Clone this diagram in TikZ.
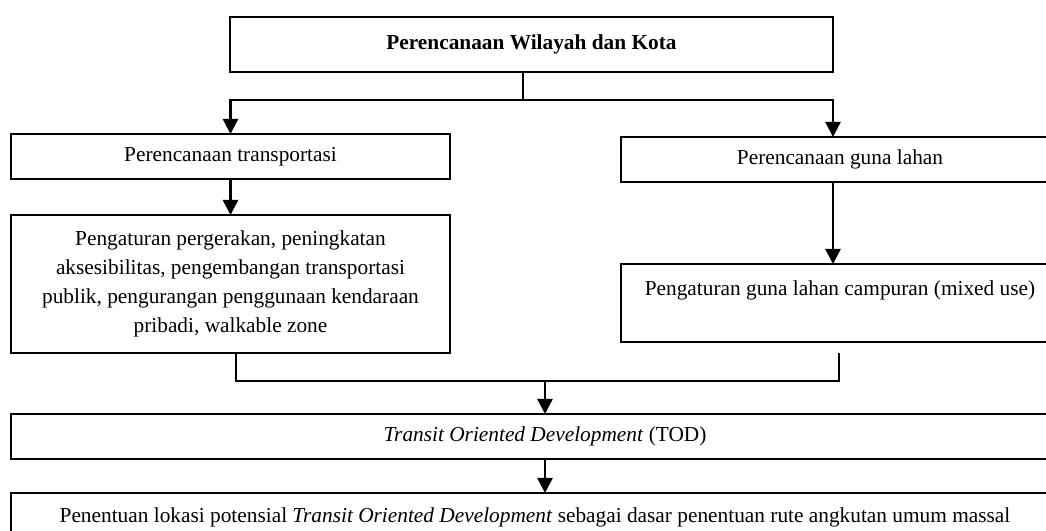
\documentclass[tikz,border=0pt]{standalone}
\usepackage{fontspec}
\setmainfont{Liberation Serif}
\usetikzlibrary{arrows.meta, calc}

\begin{document}
\begin{tikzpicture}[
    x=0.5625pt, y=-0.5625pt,
    every node/.style={font=\fontsize{12}{16.3}\selectfont},
    % Gaya kotak proses (garis hitam tipis)
    kotak/.style={
        draw, line width=0.9pt, inner sep=0pt, outer sep=0pt, align=center
    },
    % Gaya panah alur (hitam, tebal)
    panahAlur/.style={
        line width=1.35pt, -{Triangle[length=8.5pt, width=8.5pt]}
    },
    % Gaya garis penghubung tanpa panah
    garisAlur/.style={
        line width=0.85pt
    }
]
    % --- BATAS GAMBAR ---
    \useasboundingbox (0,0) rectangle (1046,531);
    \clip (0,0) rectangle (1046,531);

    % 1. Kotak utama
    \node[kotak, minimum width=339.2pt, minimum height=30.9pt] (judul) at (531.5,44.5)
        {\textbf{Perencanaan Wilayah dan Kota}};

    % 2. Dua cabang perencanaan
    \node[kotak, minimum width=246.9pt, minimum height=25.3pt] (transportasi) at (230.5,156.5)
        {\raisebox{-1pt}{Perencanaan transportasi}};
    \node[kotak, minimum width=246.4pt, minimum height=25.3pt] (gunaLahan) at (840,159.5)
        {\raisebox{-1pt}{Perencanaan guna lahan}};

    % 3. Rincian tiap cabang
    \node[kotak, minimum width=246.9pt, minimum height=77.6pt] (pergerakan) at (230.5,284)
        {Pengaturan pergerakan, peningkatan\\
         aksesibilitas, pengembangan transportasi\\
         publik, pengurangan penggunaan kendaraan\\
         pribadi, walkable zone};
    \node[kotak, minimum width=246.4pt, minimum height=43.9pt] (campuran) at (840,303)
        {Pengaturan guna lahan campuran (mixed use)\\ \mbox{}};

    % 4. TOD dan hasil akhir
    \node[kotak, minimum width=600.75pt, minimum height=25.3pt] (tod) at (545,436.5)
        {\textit{Transit Oriented Development} (TOD)};
    \node[kotak, minimum width=589.5pt, minimum height=27pt] (lokasi) at (535,517)
        {Penentuan lokasi potensial \textit{Transit Oriented Development} sebagai dasar penentuan rute angkutan umum massal};

    % Titik bantu
    \coordinate (cabang) at (523,100);
    \coordinate (kolomKanan) at (833,100);
    \coordinate (gabung) at (545,381);

    % 5. Panah dari kotak utama
    \draw[line width=0.6pt] (judul.south -| cabang) -- (cabang);
    \draw[panahAlur] (cabang) -| (transportasi.north);
    \draw[panahAlur] (cabang) -- (kolomKanan) -- (kolomKanan |- gunaLahan.north);

    % 6. Panah ke rincian
    \draw[panahAlur] (transportasi.south) -- (pergerakan.north);
    \draw[panahAlur] (gunaLahan.south -| kolomKanan) -- (campuran.north -| kolomKanan);

    % 7. Penggabungan ke TOD
    \draw[garisAlur] ($(pergerakan.south)+(5.5,0)$) |- (gabung) -| ($(campuran.south)+(-1,11)$);
    \draw[panahAlur] (gabung) -- (gabung |- tod.north);
    \draw[panahAlur] (gabung |- tod.south) -- (gabung |- lokasi.north);

\end{tikzpicture}
\end{document}
